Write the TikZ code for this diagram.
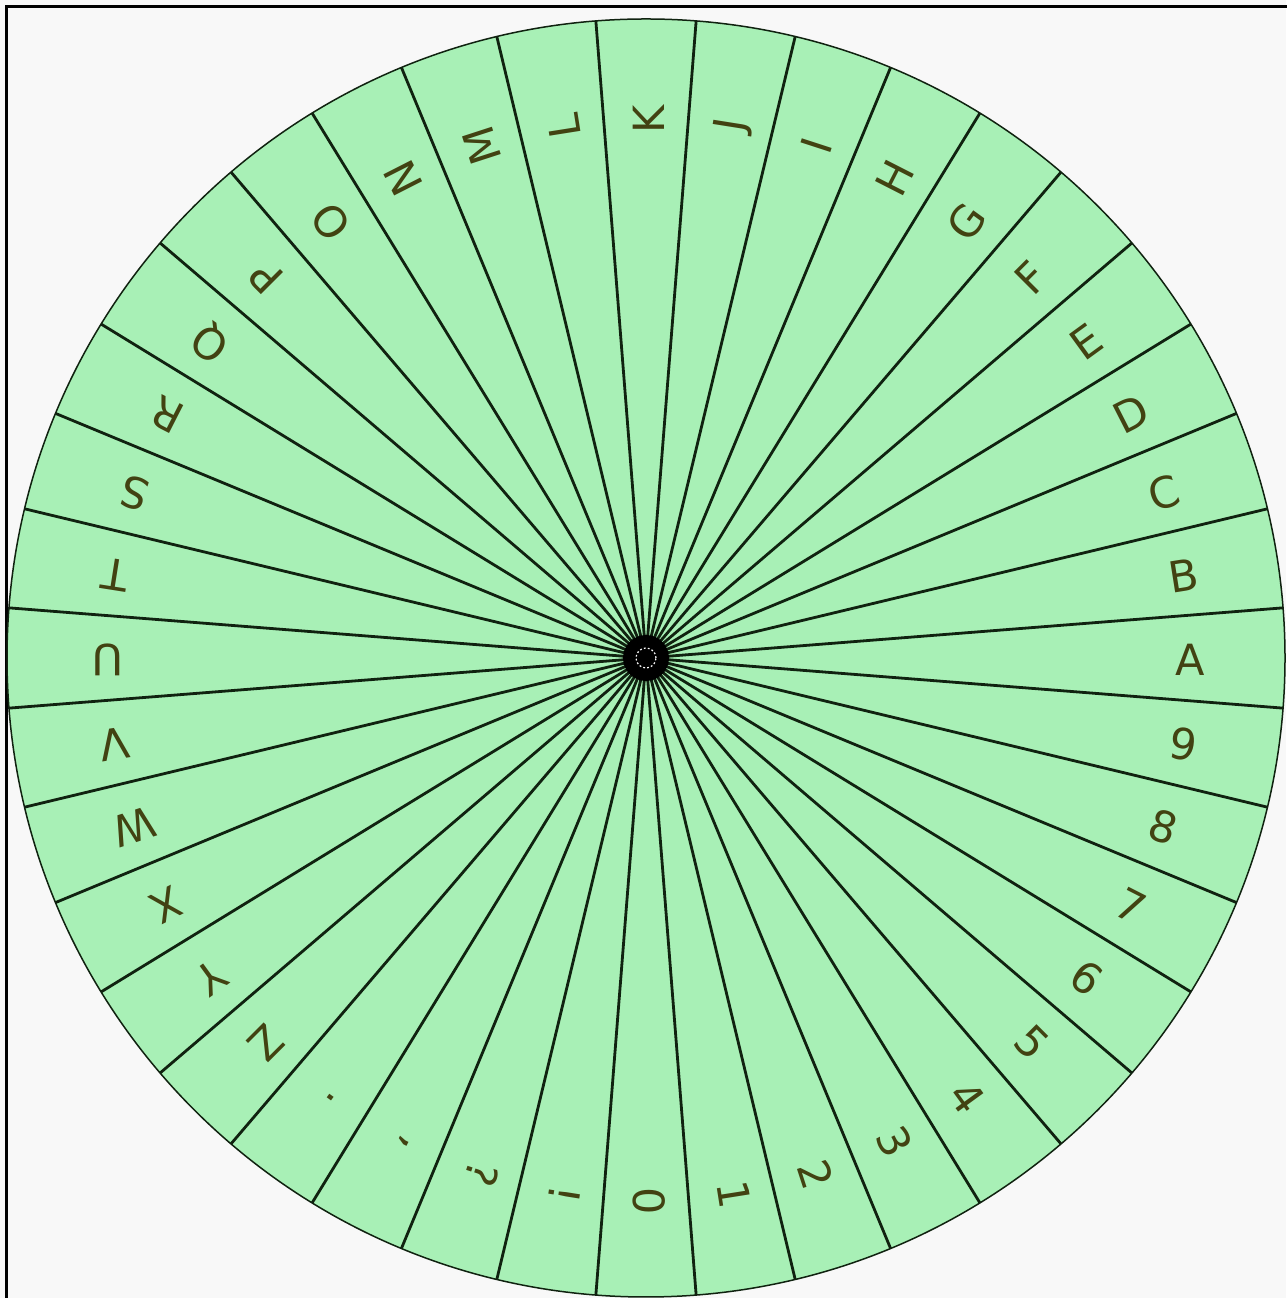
\documentclass[tikz,border=0pt]{standalone}
\usepackage{fontspec}
\setmainfont{DejaVu Sans}
\usetikzlibrary{calc}
\definecolor{bgc}{RGB}{248,248,248}
\definecolor{wheelc}{RGB}{168,240,182}
\definecolor{spokec}{RGB}{16,34,16}
\definecolor{textc}{RGB}{66,66,18}
\tikzset{
  wheel/.style={fill=wheelc, draw=spokec, line width=1.5pt},
  spoke/.style={draw=spokec, line width=2.8pt},
  glyph/.style={text=textc, font=\fontsize{43}{43}\selectfont, inner sep=0pt, anchor=center},
  frameline/.style={draw=black, line width=3pt}
}
\begin{document}
\begin{tikzpicture}[x=1pt,y=1pt]
\fill[bgc] (0,0) rectangle (1286,1298);
\useasboundingbox (0,0) rectangle (1286,1298);
\coordinate (tl) at (6,1291);
\coordinate (tr) at (1290,1291);
\coordinate (bl) at (6,-5);
\draw[frameline] (bl) -- (tl) -- (tr);
\coordinate (c) at (646,640);
\coordinate (lc) at (649,638);
\path[wheel] (c) circle[radius=639];
\foreach \k in {0,...,39}{
  \coordinate (e\k) at ($(c)+({4.5+9*\k}:639)$);
  \draw[spoke] (c) -- (e\k);
}
\fill[black] (c) circle[radius=23];
\draw[white, line width=1.2pt, dash pattern=on 1.8pt off 2.2pt] (c) circle[radius=10];
\foreach \ch [count=\i from 0] in {{A},{B},{C},{D},{E},{F},{G},{H},{I},{J},{K},{L},{M},{N},{O},{P},{Q},{R},{S},{T},{U},{V},{W},{X},{Y},{Z},{.},{,},{?},{!},{0},{1},{2},{3},{4},{5},{6},{7},{8},{9}}{
  \node[glyph, rotate=9*\i] (lab\i) at ($(lc)+({9*\i}:541)$) {\ch};
}
\end{tikzpicture}
\end{document}
